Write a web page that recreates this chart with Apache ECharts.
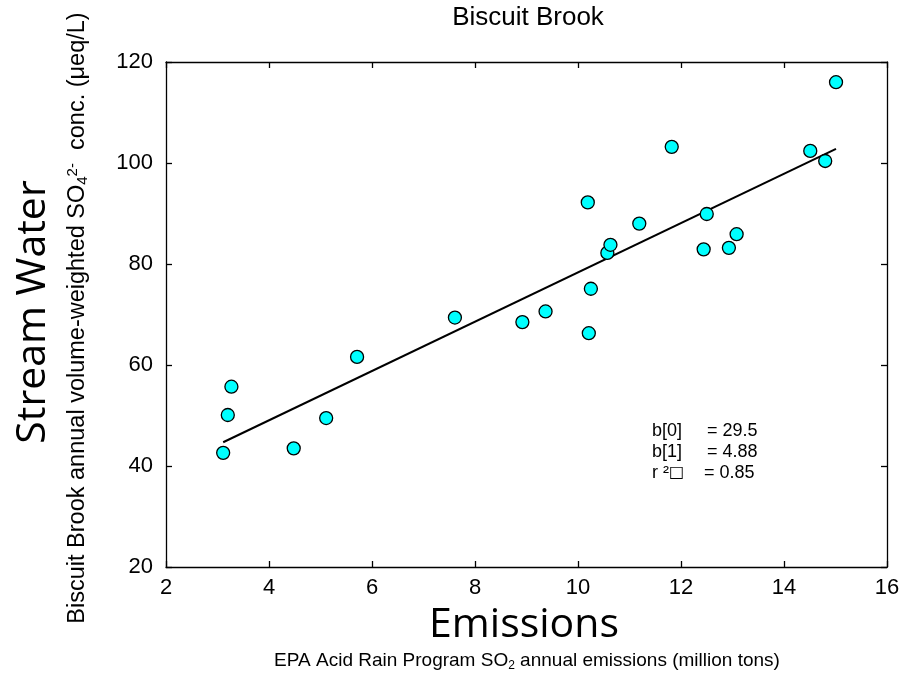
<!DOCTYPE html>
<html>
<head>
<meta charset="utf-8">
<title>Biscuit Brook</title>
<script src="https://cdn.jsdelivr.net/npm/echarts@6/dist/echarts.min.js"></script>
<style>
    html, body { margin: 0; padding: 0; background: #fff; }
    #biscuit_chart { width: 907px; height: 680px; }
</style>
</head>
<body>
<div id="biscuit_chart"></div>
<script>
// EPA SO2 emissions (million tons)
var emissions = [3.11, 3.20, 3.27, 4.48, 5.11, 5.71, 7.61, 8.92, 9.37, 10.19, 10.21, 10.25,
                 10.57, 10.63, 11.19, 11.82, 12.44, 12.50, 12.93, 13.08, 14.51, 14.80, 15.01];
// stream water SO4 conc. (ueq/L)
var so4_conc = [42.6, 50.1, 55.7, 43.5, 49.5, 61.6, 69.4, 68.5, 70.6, 92.2, 66.3, 75.1,
                82.2, 83.8, 88.0, 103.2, 82.9, 89.9, 83.2, 85.9, 102.4, 100.4, 116.0];

// regression line end points
var fit_x = [3.11, 15.01];
var fit_y = [44.7, 102.8];

var x_ticks = [2, 16, 2];    // min, max, interval
var y_ticks = [20, 120, 20];

var stat_labels = ['b[0]', 'b[1]', 'r \u00b2{box|\u25a1}'];
var stat_values = ['= 29.5', '= 4.88', '= 0.85'];

// rich styles for sub / superscripts at a given base size
function scriptRich(size){
    var small = Math.round(size * 0.65);
    return {
        n: { fontSize: size, fontFamily: 'Liberation Sans', color: '#000', lineHeight: size + 2 },
        sub: { fontSize: small, fontFamily: 'Liberation Sans', color: '#000', lineHeight: small,
               padding: [Math.round(size * 0.75), 0, 0, 0], verticalAlign: 'bottom' },
        sup: { fontSize: small, fontFamily: 'Liberation Sans', color: '#000', lineHeight: small,
               verticalAlign: 'top' }
    };
}

function loadChart(){

    var points = [];
    for (var i = 0; i < emissions.length; i++) {
        points.push([emissions[i], so4_conc[i]]);
    }
    var line = [];
    for (var j = 0; j < fit_x.length; j++) {
        line.push([fit_x[j], fit_y[j]]);
    }

    var myChart = echarts.init(document.getElementById('biscuit_chart'));

    var axisCommon = {
        type: 'value',
        axisLine: { show: true, lineStyle: { color: '#000', width: 1.3 } },
        axisTick: { show: true, inside: true, length: 6, lineStyle: { color: '#000', width: 1.3 } },
        splitLine: { show: false }
    };

    var labelFont = { color: '#000', fontSize: 22, fontFamily: 'Liberation Sans' };

    // stats block (b0, b1, r2)
    var stats = [];
    for (var k = 0; k < stat_labels.length; k++) {
        stats.push({
            type: 'text', x: 652, y: 431 + k * 21,
            style: { text: stat_labels[k], fill: '#000', fontSize: 18, fontFamily: 'Liberation Sans',
                     verticalAlign: 'middle',
                     rich: { box: { fontSize: 16, fontFamily: 'DejaVu Sans', color: '#aaa' } } }
        });
        stats.push({
            type: 'text', x: k == 2 ? 704 : 707, y: 431 + k * 21,
            style: { text: stat_values[k], fill: '#000', fontSize: 18, fontFamily: 'Liberation Sans',
                     verticalAlign: 'middle' }
        });
    }

    var option = {
        animation: false,
        backgroundColor: '#fff',
        grid: { left: 166, top: 62, width: 721, height: 505 },
        xAxis: [
            Object.assign({}, axisCommon, {
                position: 'bottom', min: x_ticks[0], max: x_ticks[1], interval: x_ticks[2],
                axisLabel: Object.assign({ margin: 10 }, labelFont)
            }),
            Object.assign({}, axisCommon, {
                position: 'top', min: x_ticks[0], max: x_ticks[1], interval: x_ticks[2],
                axisLabel: { show: false }
            })
        ],
        yAxis: [
            Object.assign({}, axisCommon, {
                position: 'left', min: y_ticks[0], max: y_ticks[1], interval: y_ticks[2],
                axisLabel: Object.assign({ margin: 13 }, labelFont)
            }),
            Object.assign({}, axisCommon, {
                position: 'right', min: y_ticks[0], max: y_ticks[1], interval: y_ticks[2],
                axisLabel: { show: false }
            })
        ],
        series: [
            {
                name: 'Fit',
                type: 'line',
                data: line,
                showSymbol: false,
                lineStyle: { color: '#000', width: 2 },
                z: 2
            },
            {
                name: 'Biscuit Brook',
                type: 'scatter',
                data: points,
                symbol: 'circle',
                symbolSize: 13,
                itemStyle: { color: '#00ffff', borderColor: '#000', borderWidth: 1.3, opacity: 1 },
                z: 3
            }
        ],
        graphic: [
            {
                type: 'text', x: 528, y: 18,
                style: { text: 'Biscuit Brook', fill: '#000', fontSize: 26, fontFamily: 'Liberation Sans',
                         align: 'center', verticalAlign: 'middle' }
            },
            {
                type: 'text', x: 524, y: 625,
                style: { text: 'Emissions', fill: '#000', fontSize: 41, fontFamily: 'Open Sans',
                         align: 'center', verticalAlign: 'middle' }
            },
            {
                type: 'text', x: 527, y: 661,
                style: { text: '{n|EPA Acid Rain Program SO}{sub|2}{n| annual emissions (million tons)}',
                         align: 'center', verticalAlign: 'middle', rich: scriptRich(19) }
            },
            {
                type: 'text', x: 33, y: 312, rotation: Math.PI / 2,
                style: { text: 'Stream Water', fill: '#000', fontSize: 41, fontFamily: 'Open Sans',
                         align: 'center', verticalAlign: 'middle' }
            },
            {
                type: 'text', x: 78, y: 318, rotation: Math.PI / 2,
                style: { text: '{n|Biscuit Brook annual volume-weighted SO}{sub|4}{sup|2-}{n|  conc. (\u03bceq/L)}',
                         align: 'center', verticalAlign: 'middle', rich: scriptRich(23.5) }
            }
        ].concat(stats)
    };

    myChart.setOption(option);
}

loadChart();
</script>
</body>
</html>
